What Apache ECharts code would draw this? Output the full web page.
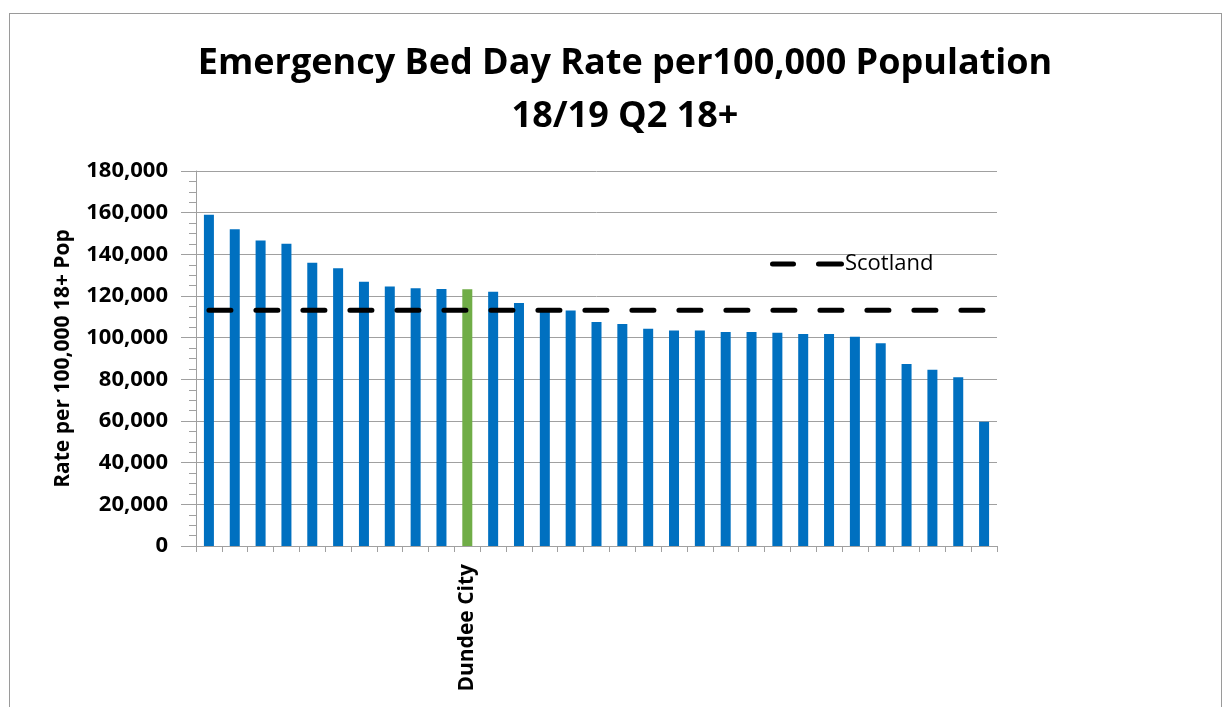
<!DOCTYPE html>
<html>
<head>
<meta charset="utf-8">
<script src="https://cdn.jsdelivr.net/npm/echarts@6/dist/echarts.min.js"></script>
<style>
  html, body { margin: 0; padding: 0; background: #fff; }
  #frame { position: absolute; left: 9px; top: 13px; width: 1211px; height: 700px; border: 1px solid #9a9a9a; border-bottom: none; }
  #chart { position: absolute; left: 0; top: 0; width: 1222px; height: 707px; }
</style>
</head>
<body>
<div id="frame"></div>
<div id="chart"></div>
<script>
// partnerships, sorted high to low; only Dundee City is labelled on the original
const areas = ['', '', '', '', '', '', '', '', '', '', 'Dundee City', '', '', '', '', '',
  '', '', '', '', '', '', '', '', '', '', '', '', '', '', ''];
const bedDayRate = [159000, 152000, 146700, 145100, 136000, 133300, 126900, 124600, 123700, 123400,
  123300, 122100, 116600, 112800, 113100, 107500, 106600, 104300, 103500, 103500,
  102700, 102700, 102400, 101800, 101800, 100500, 97300, 87400, 84600, 81000, 59700];
const scotlandRate = 113200;
const highlight = 'Dundee City';

var chartDom = document.getElementById('chart');
var myChart = echarts.init(chartDom);
var font = '"Open Sans", sans-serif';

// two rounded dashes, to match the dashed Scotland line
var dashIcon = 'path://M2.5,0 H23.5 A2.5,2.5 0 0 1 23.5,5 H2.5 A2.5,2.5 0 0 1 2.5,0 Z ' +
  'M48.5,0 H71.5 A2.5,2.5 0 0 1 71.5,5 H48.5 A2.5,2.5 0 0 1 48.5,0 Z';

var option = {
  animation: false,
  title: {
    text: 'Emergency Bed Day Rate per100,000 Population\n18/19 Q2 18+',
    left: 620,
    textAlign: 'center',
    top: 32,
    textStyle: {
      fontFamily: font,
      fontSize: 36,
      fontWeight: 'bold',
      color: '#000',
      lineHeight: 53
    }
  },
  legend: {
    left: 765,
    top: 248,
    itemWidth: 74,
    itemHeight: 5,
    itemGap: 0,
    textStyle: { fontFamily: font, fontSize: 22, color: '#000', padding: [0, 0, 0, -4] },
    data: [{ name: 'Scotland', icon: dashIcon }]
  },
  grid: { left: 196, right: 225, top: 171, bottom: 161 },
  xAxis: {
    type: 'category',
    data: areas,
    axisLine: { lineStyle: { color: '#a0a0a0', width: 1 } },
    axisTick: { show: true, length: 6, interval: 0, lineStyle: { color: '#a0a0a0' } },
    axisLabel: {
      interval: 0,
      rotate: 90,
      margin: 18,
      fontFamily: font,
      fontSize: 21,
      fontWeight: 'bold',
      color: '#000'
    }
  },
  yAxis: {
    type: 'value',
    min: 0,
    max: 180000,
    interval: 20000,
    name: 'Rate per 100,000 18+ Pop',
    nameLocation: 'middle',
    nameGap: 122,
    nameTextStyle: { fontFamily: font, fontSize: 21, fontWeight: 'bold', color: '#000' },
    axisLine: { show: true, lineStyle: { color: '#a0a0a0' } },
    axisTick: { show: true, length: 15, lineStyle: { color: '#a0a0a0' } },
    minorTick: { show: true, splitNumber: 4, length: 7, lineStyle: { color: '#a0a0a0' } },
    splitLine: { lineStyle: { color: '#a0a0a0', width: 1 } },
    axisLabel: {
      margin: 28,
      fontFamily: font,
      fontSize: 22,
      fontWeight: 'bold',
      color: '#000',
      formatter: function (v) { return v.toLocaleString('en-GB'); }
    }
  },
  series: [
    {
      name: 'Rate',
      type: 'bar',
      barWidth: 10,
      data: bedDayRate.map(function (v, i) {
        return {
          value: v,
          itemStyle: { color: areas[i] === highlight ? '#70ad47' : '#0070c0' }
        };
      })
    },
    {
      name: 'Scotland',
      type: 'line',
      symbol: 'none',
      data: bedDayRate.map(function () { return scotlandRate; }),
      lineStyle: { color: '#000', width: 5, type: [22, 25], cap: 'round' },
      itemStyle: { color: '#000' },
      z: 5
    }
  ]
};

myChart.setOption(option);
</script>
</body>
</html>
